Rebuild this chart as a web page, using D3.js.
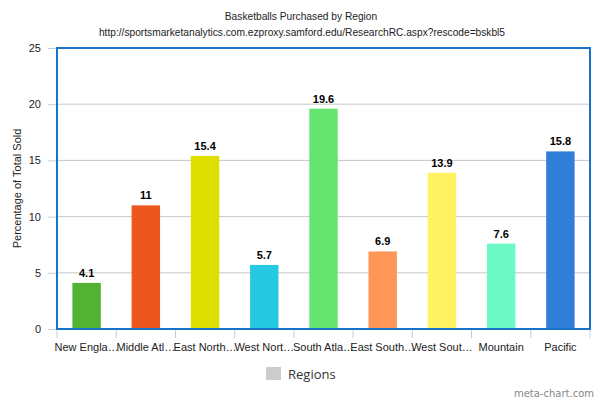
<!DOCTYPE html>
<html>
<head>
<meta charset="utf-8">
<script src="https://cdn.jsdelivr.net/npm/d3@7"></script>
<style>
  html, body { margin: 0; padding: 0; background: #fff; }
  svg { display: block; font-family: "Liberation Sans", Arial, sans-serif; }
</style>
</head>
<body>
<svg id="chart" width="600" height="400"></svg>
<script>
const categories = ["New England", "Middle Atlantic", "East North Central", "West North Central",
  "South Atlantic", "East South Central", "West South Central", "Mountain", "Pacific"];
const tickLabels = ["New Engla\u2026", "Middle Atl\u2026", "East North\u2026", "West Nort\u2026",
  "South Atla\u2026", "East South\u2026", "West Sout\u2026", "Mountain", "Pacific"];
const values = [4.1, 11, 15.4, 5.7, 19.6, 6.9, 13.9, 7.6, 15.8];
const colors = ["#52b232", "#ee561f", "#dfe000", "#27c9e2", "#65e570", "#ff9657", "#fff263", "#6cf9c6", "#2f7ed8"];
const yTicks = [0, 5, 10, 15, 20, 25];
const title = "Basketballs Purchased by Region";
const subtitle = "http://sportsmarketanalytics.com.ezproxy.samford.edu/ResearchRC.aspx?rescode=bskbl5";
const yTitle = "Percentage of Total Sold";
const legendLabel = "Regions";
const credit = "meta-chart.com";

const svg = d3.select("#chart");
const m = { left: 57, right: 590, top: 48, bottom: 329 };

const x = d3.scaleBand().domain(categories).range([m.left, m.right]).paddingInner(0.52).paddingOuter(0.26);
const xTick = d3.scaleBand().domain(categories).range([m.left, m.right]);
const y = d3.scaleLinear().domain([0, 25]).range([m.bottom, m.top]);

// title
svg.append("text").attr("x", 301).attr("y", 20).attr("text-anchor", "middle")
  .attr("font-size", 10.2).attr("fill", "#222").text(title);
svg.append("text").attr("x", 302).attr("y", 36).attr("text-anchor", "middle")
  .attr("font-size", 10.2).attr("fill", "#222").text(subtitle);

// gridlines
svg.append("g").selectAll("line").data(yTicks.filter(d => d > 0 && d < 25)).join("line")
  .attr("x1", m.left).attr("x2", m.right)
  .attr("y1", d => y(d)).attr("y2", d => y(d))
  .attr("stroke", "#c8c8c8").attr("stroke-width", 1);

// y axis
const yAxis = svg.append("g").attr("transform", `translate(${m.left},0)`)
  .call(d3.axisLeft(y).tickValues(yTicks).tickSize(9).tickPadding(7));
yAxis.select(".domain").remove();
yAxis.selectAll(".tick line").attr("stroke", "#c0d0e0");
yAxis.selectAll(".tick text").attr("font-size", 11).attr("fill", "#222")
  .attr("font-family", "Liberation Sans, Arial, sans-serif");

// y title
svg.append("text").attr("transform", `translate(21,${(m.top + m.bottom) / 2}) rotate(-90)`)
  .attr("text-anchor", "middle").attr("font-size", 11).attr("fill", "#222").text(yTitle);

// x axis ticks (at band boundaries)
const bounds = categories.map(c => xTick(c)).concat([m.right]);
svg.append("g").selectAll("line").data(bounds).join("line")
  .attr("x1", d => d).attr("x2", d => d).attr("y1", m.bottom).attr("y2", m.bottom + 9)
  .attr("stroke", "#c0d0e0").attr("stroke-width", 1);
svg.append("g").selectAll("text").data(categories).join("text")
  .attr("x", d => xTick(d) + xTick.bandwidth() / 2).attr("y", 351)
  .attr("text-anchor", "middle").attr("font-size", 11).attr("fill", "#222")
  .text((d, i) => tickLabels[i]);

// bars
svg.append("g").selectAll("rect").data(values).join("rect")
  .attr("x", (d, i) => x(categories[i])).attr("width", x.bandwidth())
  .attr("y", d => y(d)).attr("height", d => y(0) - y(d))
  .attr("fill", (d, i) => colors[i]);

// value labels
svg.append("g").selectAll("text").data(values).join("text")
  .attr("x", (d, i) => x(categories[i]) + x.bandwidth() / 2).attr("y", d => y(d) - 6)
  .attr("text-anchor", "middle").attr("font-size", 11).attr("font-weight", "bold").attr("fill", "#000")
  .text(d => d);

// plot border
svg.append("rect").attr("x", m.left).attr("y", m.top)
  .attr("width", m.right - m.left).attr("height", m.bottom - m.top)
  .attr("fill", "none").attr("stroke", "#1673c9").attr("stroke-width", 2);

// legend
svg.append("rect").attr("x", 266).attr("y", 367).attr("width", 15).attr("height", 13).attr("fill", "#cccccc");
svg.append("text").attr("x", 288).attr("y", 379).attr("font-size", 13).attr("fill", "#333")
  .attr("font-family", "Open Sans, sans-serif").text(legendLabel);

// credit
svg.append("text").attr("x", 594).attr("y", 397).attr("text-anchor", "end").attr("font-size", 10)
  .attr("fill", "#888").attr("font-family", "DejaVu Sans, sans-serif").text(credit);
</script>
</body>
</html>
